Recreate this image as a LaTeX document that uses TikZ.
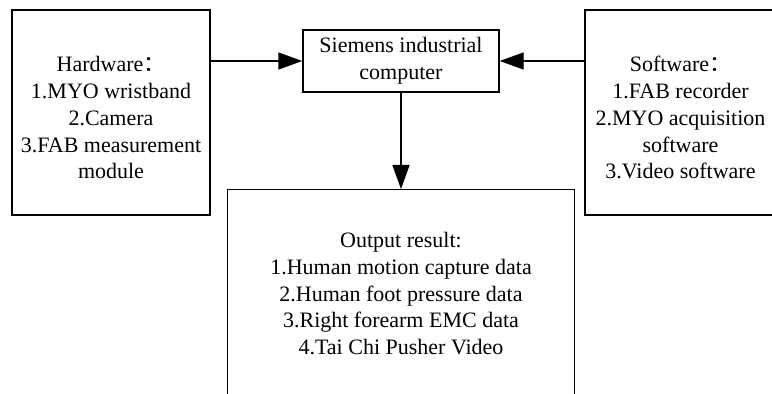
\documentclass[tikz,border=0pt]{standalone}
\usepackage{fontspec}
\setmainfont{Liberation Serif}
\newfontfamily\cjk{Noto Sans CJK SC}
\usetikzlibrary{arrows.meta,positioning}
\definecolor{ink}{HTML}{000000}
\definecolor{line}{HTML}{000000}
\begin{document}
\begin{tikzpicture}[
  x=1pt,y=1pt,
  text=ink,
  arrow/.style={-{Triangle[length=24pt,width=17pt]},draw=line,line width=1.4pt},
  box/.style={draw=line,line width=1.4pt,align=center,inner sep=0pt,
    font=\fontsize{22}{26.7}\selectfont}
]
  \useasboundingbox (0,0) rectangle (772,394);
  \node[box,minimum width=198pt,minimum height=205pt] (hw) at (111,281.5)
    {\rule{0pt}{26pt}Hardware{\cjk ：}\\1.MYO wristband\\2.Camera\\3.FAB measurement\\module};
  \node[box,minimum width=196pt,minimum height=62pt] (pc) at (401,333)
    {Siemens industrial\\computer};
  \node[box,minimum width=191pt,minimum height=205pt] (sw) at (680.5,281.5)
    {\rule{0pt}{26pt}Software{\cjk ：}\\1.FAB recorder\\2.MYO acquisition\\software\\3.Video software};
  \node[box,anchor=north,minimum width=347pt,minimum height=208pt] (out) at (401,205)
    {Output result:\\1.Human motion capture data\\2.Human foot pressure data\\
     3.Right forearm EMC data\\4.Tai Chi Pusher Video};

  \draw[arrow] (pc.west -| hw.east) -- (pc.west);
  \draw[arrow] (pc.east -| sw.west) -- (pc.east);
  \draw[arrow] (pc.south) -- (out.north);
\end{tikzpicture}
\end{document}
